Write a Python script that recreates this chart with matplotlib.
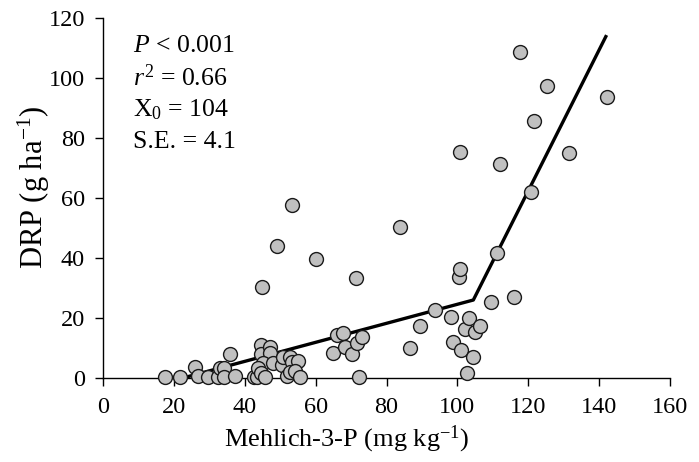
import numpy as np
import matplotlib
matplotlib.use('Agg')
import matplotlib.pyplot as plt

plt.rcParams.update({
    'font.family': 'Liberation Serif',
    'mathtext.fontset': 'custom',
    'mathtext.rm': 'Liberation Serif',
    'mathtext.it': 'Liberation Serif:italic',
})

# Mehlich-3-P (mg/kg) vs DRP (g/ha)
mehlich_p = [17.5, 21.7, 26.0, 26.7, 29.7, 32.5, 33.0, 34.1, 34.0, 35.8,
             37.2, 42.6, 43.5, 44.6, 44.6, 47.1, 47.1, 45.2, 43.8, 44.6,
             45.7, 48.1, 50.4, 50.7, 52.8, 53.2, 55.1, 51.8, 52.8, 54.2,
             55.6, 44.8, 49.0, 53.2, 60.1, 65.0, 66.1, 67.6, 68.3, 70.4,
             71.6, 73.0, 72.2, 71.4, 83.8, 86.6, 89.4, 93.7, 98.2, 98.9,
             101.0, 102.1, 103.4, 104.5, 105.1, 106.5, 102.6, 100.4, 100.6, 100.7,
             109.4, 111.1, 112.0, 116.1, 117.7, 120.7, 121.6, 125.2, 131.6, 142.1]
drp = [0.2, 0.2, 3.8, 0.7, 0.4, 0.4, 3.4, 3.2, 0.3, 8.0,
       0.7, 0.2, 0.3, 11.0, 8.0, 10.4, 8.2, 4.9, 3.2, 1.6,
       0.2, 4.9, 4.3, 6.9, 7.1, 5.4, 5.8, 0.7, 2.1, 2.4,
       0.2, 30.4, 44.0, 57.7, 39.6, 8.2, 14.3, 15.1, 10.2, 8.1,
       11.6, 13.6, 0.4, 33.4, 50.5, 10.0, 17.4, 22.7, 20.4, 11.9,
       9.4, 16.3, 20.1, 7.1, 15.4, 17.4, 1.8, 33.8, 36.3, 75.3,
       25.2, 41.8, 71.2, 27.1, 108.6, 62.1, 85.8, 97.3, 74.9, 93.8]

# split-line fit knots (drawn from y=0 up to the largest Mehlich-3-P)
fit_x = [22.5, 104.5, 142.1]
fit_y = [0.0, 26.0, 114.3]

stats_lines = [r'$P$ < 0.001', r'$r^2$ = 0.66', r'X$_0$ = 104', 'S.E. = 4.1']

fig = plt.figure(figsize=(6.99, 4.62), dpi=100)
ax = fig.add_axes([0.1474, 0.1818, 0.8111, 0.7792])

ax.plot(fit_x, fit_y, color='black', lw=2.4, zorder=2, solid_capstyle='butt')
ax.scatter(mehlich_p, drp, s=100, facecolor='#c0c0c0', edgecolor='#1a1a1a',
           linewidth=1.0, zorder=3, clip_on=False)

ax.set_xlim(0, 160)
ax.set_ylim(0, 120)
ax.set_xticks(np.arange(0, 161, 20))
ax.set_yticks(np.arange(0, 121, 20))
ax.spines['top'].set_visible(False)
ax.spines['right'].set_visible(False)
for s in ('left', 'bottom'):
    ax.spines[s].set_linewidth(1.0)
ax.tick_params(direction='out', length=6, width=1.0, labelsize=17.5)
ax.tick_params(axis='x', pad=8)
ax.tick_params(axis='y', pad=7)

ax.set_xlabel(r'Mehlich-3-P (mg kg$^{-1}$)', fontsize=19)
ax.xaxis.set_label_coords(0.43, -0.127)
ax.set_ylabel(r'DRP (g ha$^{-1}$)', fontsize=22)
ax.yaxis.set_label_coords(-0.09, 0.53)

for i, line in enumerate(stats_lines):
    ax.text(0.052, 0.922 - i * 0.089, line, transform=ax.transAxes,
            fontsize=18.5, va='center', ha='left')

fig.savefig('out.png', dpi=100)
